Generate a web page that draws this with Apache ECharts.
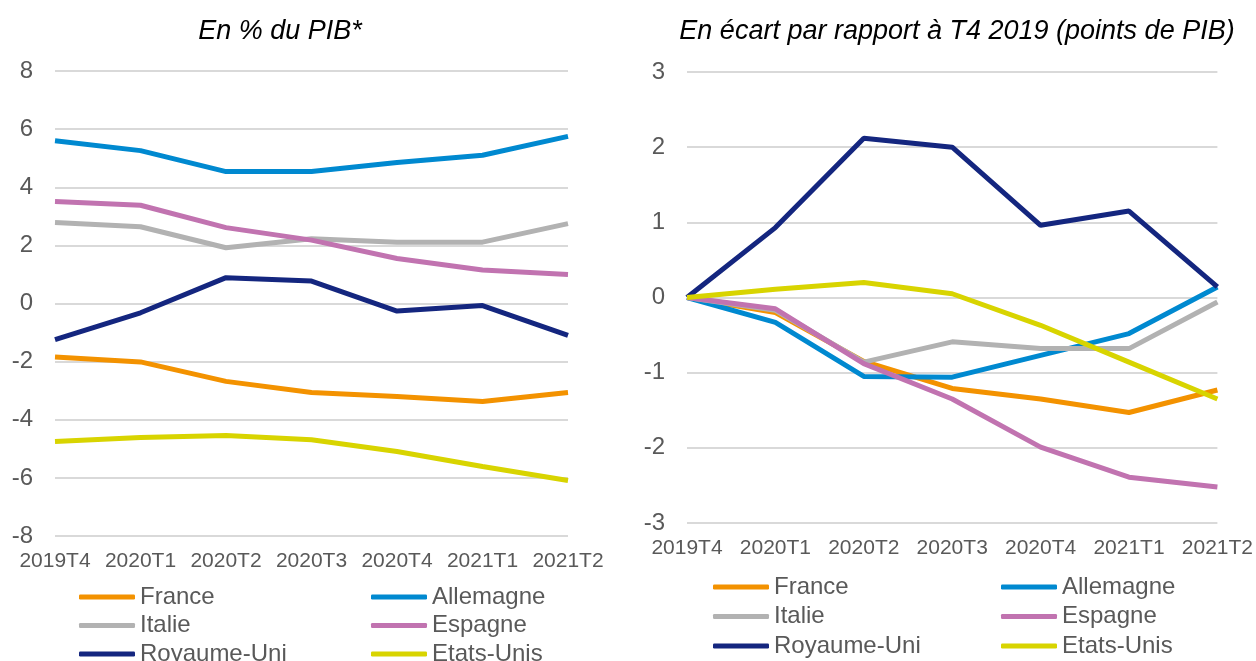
<!DOCTYPE html>
<html>
<head>
<meta charset="utf-8">
<script src="https://cdn.jsdelivr.net/npm/echarts@6/dist/echarts.min.js"></script>
<style>
html,body{margin:0;padding:0;background:#fff;}
#chart{width:1256px;height:661px;}
</style>
</head>
<body>
<div id="chart"></div>
<script>
// trimestres
const quarters = ['2019T4','2020T1','2020T2','2020T3','2020T4','2021T1','2021T2'];
const countries = ['France','Allemagne','Italie','Espagne','Royaume-Uni','Etats-Unis'];
const colors = ['#F39200','#0089D0','#B2B2B2','#C173B0','#14267F','#D8D400'];

// gauche : en % du PIB
const pctFrance    = [-1.84,-2.01,-2.68,-3.06,-3.2,-3.37,-3.06];
const pctAllemagne = [5.6,5.26,4.54,4.54,4.85,5.1,5.75];
const pctItalie    = [2.79,2.64,1.92,2.23,2.11,2.11,2.75];
const pctEspagne   = [3.51,3.38,2.61,2.18,1.55,1.15,1.0];
const pctRoyaumeUni= [-1.24,-0.32,0.89,0.77,-0.26,-0.07,-1.1];
const pctEtatsUnis = [-4.75,-4.61,-4.54,-4.69,-5.09,-5.61,-6.09];

// droite : écart par rapport à T4 2019
const ecFrance     = [0,-0.2,-0.85,-1.21,-1.35,-1.53,-1.23];
const ecAllemagne  = [0,-0.33,-1.05,-1.06,-0.77,-0.48,0.14];
const ecItalie     = [0,-0.17,-0.86,-0.59,-0.68,-0.68,-0.06];
const ecEspagne    = [0,-0.15,-0.88,-1.35,-1.99,-2.39,-2.52];
const ecRoyaumeUni = [0,0.93,2.12,2.0,0.96,1.15,0.14];
const ecEtatsUnis  = [0,0.11,0.2,0.05,-0.37,-0.86,-1.35];

const leftData = [pctFrance,pctAllemagne,pctItalie,pctEspagne,pctRoyaumeUni,pctEtatsUnis];
const rightData = [ecFrance,ecAllemagne,ecItalie,ecEspagne,ecRoyaumeUni,ecEtatsUnis];

const font = 'Liberation Sans, Arial, sans-serif';
const grey = '#595959';

const chart = echarts.init(document.getElementById('chart'));

function xAx(idx){
    return {
        type:'category', gridIndex:idx, data:quarters, boundaryGap:false,
        axisLine:{show:false}, axisTick:{show:false},
        axisLabel:{color:grey, fontSize:21, fontFamily:font, margin:15, interval:0}
    };
}
function yAx(idx, min, max, interval){
    return {
        type:'value', gridIndex:idx, min:min, max:max, interval:interval,
        axisLine:{show:false}, axisTick:{show:false},
        axisLabel:{color:grey, fontSize:24, fontFamily:font, margin:22},
        splitLine:{lineStyle:{color:'#D9D9D9', width:2}}
    };
}
function legendCol(names, left, top, gap){
    return {
        orient:'vertical', left:left, top:top, height:100, padding:0, itemGap:gap,
        data:names, icon:'roundRect', itemWidth:56, itemHeight:5,
        textStyle:{color:grey, fontSize:24, fontFamily:font}
    };
}

const series = [];
countries.forEach(function(c,i){
    series.push({name:c, type:'line', xAxisIndex:0, yAxisIndex:0, data:leftData[i],
        showSymbol:false, color:colors[i], lineStyle:{width:5, color:colors[i]}});
});
countries.forEach(function(c,i){
    series.push({name:c, type:'line', xAxisIndex:1, yAxisIndex:1, data:rightData[i],
        showSymbol:false, color:colors[i], lineStyle:{width:5, color:colors[i]}});
});

const titleStyle = {fontSize:27, fontStyle:'italic', fontWeight:'normal', color:'#000', fontFamily:font};
const option = {
    animation:false,
    title:[
        {text:'En % du PIB*', left:275, top:13, textAlign:'center', textStyle:titleStyle},
        {text:'En écart par rapport à T4 2019 (points de PIB)', left:952, top:13, textAlign:'center', textStyle:titleStyle}
    ],
    grid:[
        {left:55, right:688, top:71, bottom:125},
        {left:687, right:38, top:72, bottom:138}
    ],
    xAxis:[xAx(0), xAx(1)],
    yAxis:[yAx(0,-8,8,2), yAx(1,-3,3,1)],
    legend:[
        legendCol(['France','Italie','Royaume-Uni'], 79, 585, 4.5),
        legendCol(['Allemagne','Espagne','Etats-Unis'], 371, 585, 4.5),
        legendCol(['France','Italie','Royaume-Uni'], 713, 575, 5.5),
        legendCol(['Allemagne','Espagne','Etats-Unis'], 1001, 575, 5.5)
    ],
    series:series
};
chart.setOption(option);
</script>
</body>
</html>
